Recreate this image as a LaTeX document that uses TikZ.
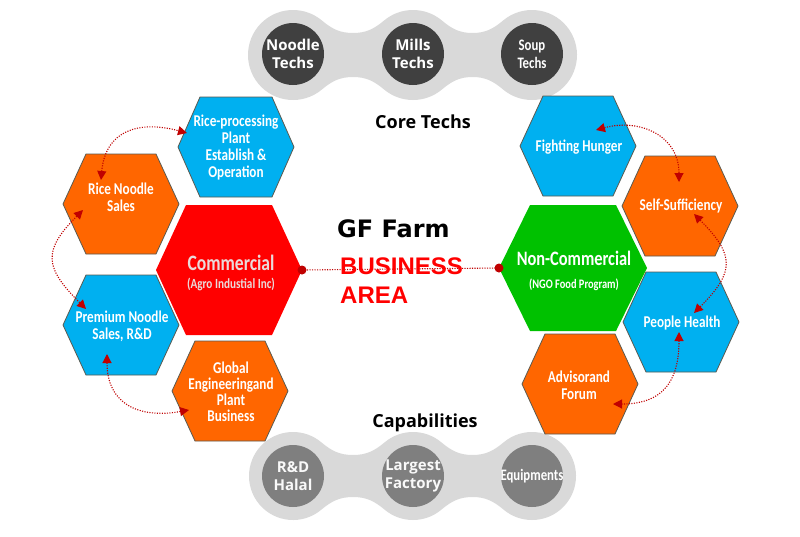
\documentclass[tikz,border=0pt]{standalone}
\usepackage{fontspec}
\usetikzlibrary{arrows.meta,calc}
\newfontfamily\hexfont[FakeStretch=0.8]{Carlito}
\newfontfamily\chfont{Open Sans}
\newfontfamily\gffont{DejaVu Sans}
\newfontfamily\busfont{Liberation Sans}
\definecolor{hblue}{HTML}{00B0F0}
\definecolor{horange}{HTML}{FF6600}
\definecolor{hred}{HTML}{FF0000}
\definecolor{hgreen}{HTML}{00C100}
\definecolor{chainbg}{HTML}{D9D9D9}
\definecolor{chaindark}{HTML}{404040}
\definecolor{chainmid}{HTML}{7F7F7F}
\definecolor{dred}{HTML}{C00000}
\definecolor{hborder}{HTML}{5A5A50}
\definecolor{comtext}{HTML}{EADADA}
\newcommand\hexpath[6]{%
  \path[#6] ({#1+#3},{-#2}) -- ({#1+#4},{-#2+#5}) -- ({#1-#4},{-#2+#5}) -- ({#1-#3},{-#2}) -- ({#1-#4},{-#2-#5}) -- ({#1+#4},{-#2-#5}) -- cycle;}
\newcommand\chainshape[3]{%
  \fill[chainbg] ($(293,-#1)+(-50:#3)$) arc[start angle=-50,end angle=-310,radius=#3]
   to[out=-40,in=180] (353,{-#1+#2})
   to[out=0,in=220] ($(413,-#1)+(130:#3)$)
   arc[start angle=130,end angle=50,radius=#3]
   to[out=-40,in=180] (472.5,{-#1+#2})
   to[out=0,in=220] ($(532,-#1)+(130:#3)$)
   arc[start angle=130,end angle=-130,radius=#3]
   to[out=140,in=0] (472.5,{-#1-#2})
   to[out=180,in=40] ($(413,-#1)+(-50:#3)$)
   arc[start angle=-50,end angle=-130,radius=#3]
   to[out=140,in=0] (353,{-#1-#2})
   to[out=180,in=40] ($(293,-#1)+(-50:#3)$) -- cycle;}
\tikzset{
  x=1pt,y=1pt,
  smallhex/.style={draw=hborder,line width=0.8pt},
  htxt/.style={text=white,align=center,inner sep=0pt,font=\hexfont\bfseries\fontsize{16.5}{17}\selectfont},
  chtxt/.style={text=white,align=center,inner sep=0pt,font=\chfont\bfseries\fontsize{15}{18}\selectfont},
  chtxtc/.style={text=white,align=center,inner sep=0pt,font=\hexfont\bfseries\fontsize{16}{18}\selectfont},
  ttl/.style={inner sep=0pt,anchor=base,font=\chfont\bfseries\fontsize{18}{20}\selectfont},
  conn/.style={draw=dred,line width=1.1pt,dash pattern=on 1.1pt off 1.4pt,
    {Triangle[length=9pt,width=9pt]}-{Triangle[length=9pt,width=9pt]}},
  dotn/.style={circle,fill=dred,inner sep=0pt,minimum size=9pt},
  cline/.style={draw=dred,line width=1.1pt,dash pattern=on 1.1pt off 1.4pt},
}
\begin{document}
\begin{tikzpicture}
\useasboundingbox (0,0) rectangle (800,-536);
\fill[white] (0,0) rectangle (800,-536);
% chains
\chainshape{55}{22}{45}
\chainshape{476}{21}{44}
\fill[chaindark] (293,-54) circle (31);
\fill[chaindark] (413,-54) circle (31);
\fill[chaindark] (532,-54) circle (31);
\fill[chainmid] (293,-476) circle (31);
\fill[chainmid] (413,-476) circle (31);
\fill[chainmid] (532,-476) circle (31);
\node[chtxt] (nt) at (293,-54) {Noodle\\Techs};
\node[chtxt] (mt) at (413,-54) {Mills\\Techs};
\node[chtxtc] (st) at (532,-54) {Soup\\Techs};
\node[chtxt,text=white!95!gray] (rd) at (293,-476) {R\&D\\Halal};
\node[chtxt,text=white!95!gray] (lf) at (413,-476) {Largest\\Factory};
\node[chtxtc] (eq) at (532,-476) {Equipments};
\node[ttl] (ct) at (423,-128) {Core Techs};
\node[ttl] (cap) at (425,-427) {Capabilities};
% hexagons left
\hexpath{236}{147}{58}{36}{50}{fill=hblue,smallhex}
\hexpath{121}{204}{58}{35}{50}{fill=horange,smallhex}
\hexpath{121}{325}{58}{35}{50}{fill=hblue,smallhex}
\hexpath{230}{391}{58}{35}{50}{fill=horange,smallhex}
\hexpath{229}{270}{73}{43}{65}{fill=hred}
% hexagons right
\hexpath{578}{146}{58}{35}{50}{fill=hblue,smallhex}
\hexpath{680}{206}{58}{35}{50}{fill=horange,smallhex}
\hexpath{681}{322}{58}{35}{50}{fill=hblue,smallhex}
\hexpath{580}{384}{58}{35}{50}{fill=horange,smallhex}
\hexpath{573}{268}{74}{43}{63}{fill=hgreen}
% hexagon texts
\node[htxt] (rp) at (236,-148) {Rice-processing\\Plant\\Establish \&\\Operation};
\node[htxt] (rn) at (121,-197) {Rice Noodle\\Sales};
\node[htxt] (pn) at (122,-326) {Premium Noodle\\Sales, R\&D};
\node[htxt,font=\hexfont\bfseries\fontsize{16.5}{16}\selectfont] (ge) at (231,-391.5) {Global\\Engineeringand\\Plant\\Business};
\node[htxt,text=comtext,font=\hexfont\bfseries\fontsize{22}{22}\selectfont] (com1) at (231,-263) {Commercial};
\node[htxt,text=comtext,font=\hexfont\bfseries\fontsize{14}{15}\selectfont] (com2) at (231,-284) {(Agro Industial Inc)};
\node[htxt] (fh) at (579,-147) {Fighting Hunger};
\node[htxt] (ss) at (681,-206) {Self-Sufficiency};
\node[htxt,font=\hexfont\bfseries\fontsize{20.5}{22}\selectfont] (nc1) at (574,-258) {Non-Commercial};
\node[htxt,font=\hexfont\bfseries\fontsize{13}{15}\selectfont] (nc2) at (574,-285) {(NGO Food Program)};
\node[htxt] (ph) at (682,-323) {People Health};
\node[htxt] (af) at (579,-385.5) {Advisorand\\Forum};
% center
\node[dotn] (d1) at (302,-270) {};
\node[dotn] (d2) at (499,-268) {};
\draw[cline] (d1.center) -- (d2.center);
\node[inner sep=0pt,anchor=base west,font=\gffont\bfseries\fontsize{24}{26}\selectfont] (gf) at (337,-237) {GF Farm};
\node[inner sep=0pt,anchor=base west,text=hred,font=\busfont\bfseries\fontsize{24}{26}\selectfont] (bu) at (340,-274) {BUSINESS};
\node[inner sep=0pt,anchor=base west,text=hred,font=\busfont\bfseries\fontsize{24}{26}\selectfont] (ar) at (340,-303) {AREA};
% arrow end points
\coordinate (l1a) at (101,-180); \coordinate (l1b) at (187,-133);
\coordinate (l2a) at (83,-210);  \coordinate (l2b) at (86,-309);
\coordinate (l3a) at (107,-354); \coordinate (l3b) at (189,-410);
\coordinate (r1a) at (596,-130); \coordinate (r1b) at (679,-182);
\coordinate (r2a) at (694,-214); \coordinate (r2b) at (694,-313);
\coordinate (r3a) at (679,-332); \coordinate (r3b) at (613,-404);
\draw[conn] (l1a) to[out=85,in=165,looseness=1.3] (l1b);
\draw[conn] (l2a) to[out=225,in=135,looseness=1.5] (l2b);
\draw[conn] (l3a) to[out=-90,in=190,looseness=1.3] (l3b);
\draw[conn] (r1a) to[out=15,in=90,looseness=1.2] (r1b);
\draw[conn] (r2a) to[out=-45,in=45,looseness=1.5] (r2b);
\draw[conn] (r3a) to[out=-90,in=0,looseness=1.3] (r3b);
\end{tikzpicture}
\end{document}
